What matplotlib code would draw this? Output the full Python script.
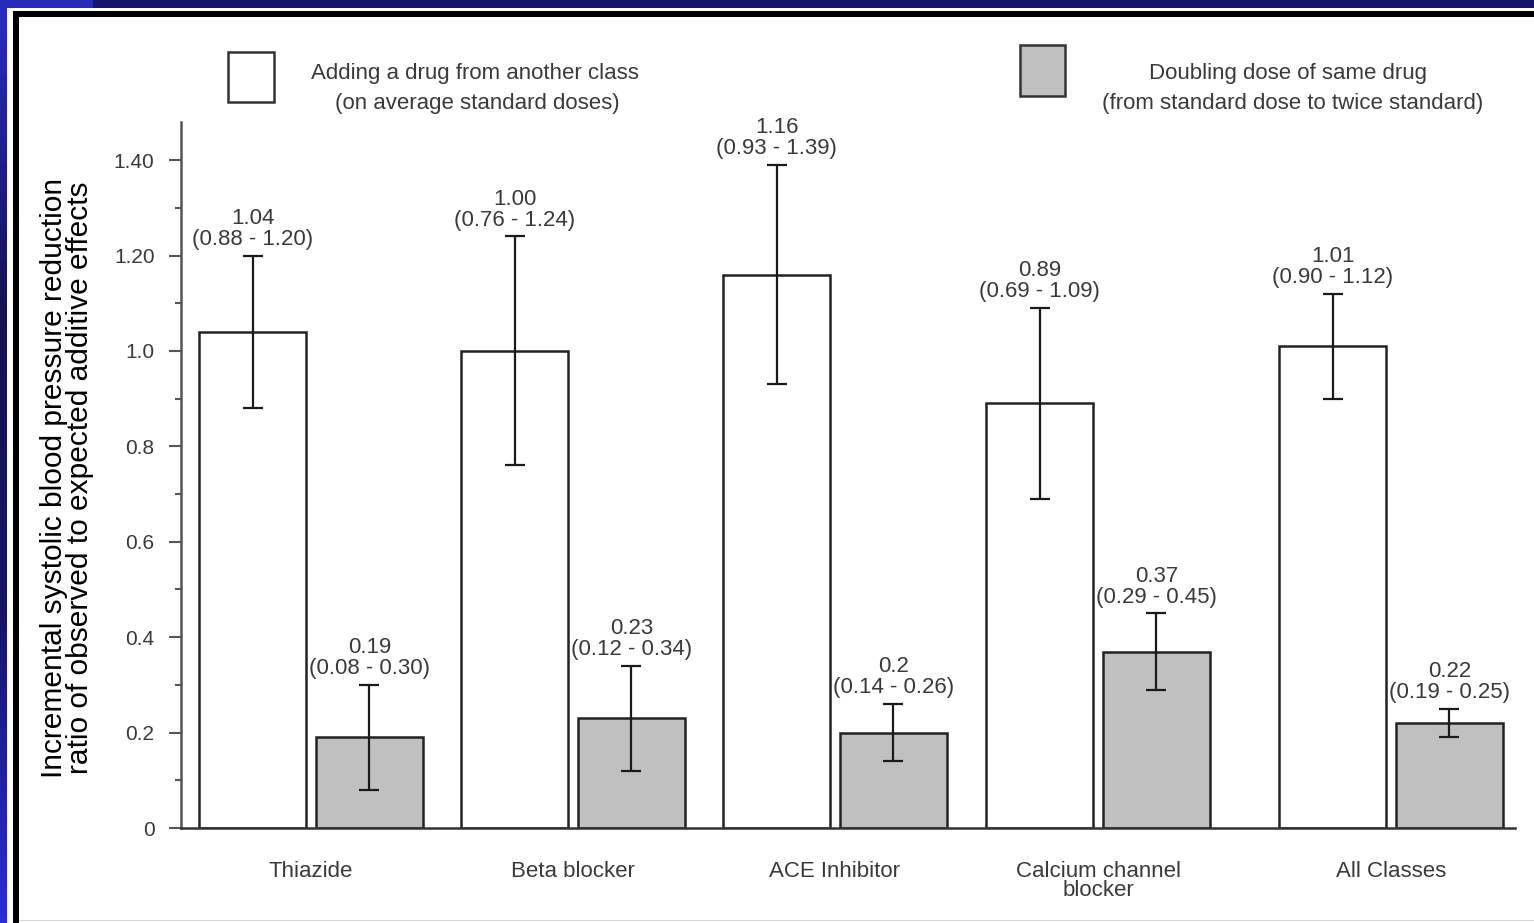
import numpy as np
import matplotlib.pyplot as plt
from matplotlib.patches import Rectangle

plt.rcParams['font.family'] = ['Liberation Sans', 'DejaVu Sans']

# drug classes and results (ratio, 95% CI)
categories = ['Thiazide', 'Beta blocker', 'ACE Inhibitor', 'Calcium channel\nblocker', 'All Classes']
add_vals = [1.04, 1.00, 1.16, 0.89, 1.01]
add_lo = [0.88, 0.76, 0.93, 0.69, 0.90]
add_hi = [1.20, 1.24, 1.39, 1.09, 1.12]
dbl_vals = [0.19, 0.23, 0.2, 0.37, 0.22]
dbl_lo = [0.08, 0.12, 0.14, 0.29, 0.19]
dbl_hi = [0.30, 0.34, 0.26, 0.45, 0.25]
ytick_vals = [0, 0.2, 0.4, 0.6, 0.8, 1.0, 1.2, 1.4]
ytick_labels = ['0', '0.2', '0.4', '0.6', '0.8', '1.0', '1.20', '1.40']

group_pos = np.array([0, 1, 2, 3.004, 4.122])
bar_w = 0.408
off = 0.223

W, H = 1534, 923
TXT = '#3a3a3a'


def fx(x):
    return x / W


def fy(y):
    return 1 - y / H


fig = plt.figure(figsize=(W / 100, H / 100), dpi=100)
fig.patch.set_facecolor('white')

# slide frame: blue strips + black border
grad = fig.add_axes([0, 0, fx(6), 1])
cols = np.array([[0.17, 0.17, 0.78], [0.08, 0.07, 0.32], [0.09, 0.08, 0.40], [0.17, 0.17, 0.85]])
stops = np.linspace(0, 1, len(cols))
t = np.linspace(0, 1, 200)
img = np.stack([np.interp(t, stops, cols[:, k]) for k in range(3)], axis=1)[:, None, :]
grad.imshow(img, aspect='auto', extent=[0, 1, 1, 0])
grad.axis('off')
fig.add_artist(Rectangle((0, fy(8)), fx(93), 1 - fy(8), transform=fig.transFigure,
                         color='#2a2ab8', lw=0))
fig.add_artist(Rectangle((fx(93), fy(8)), 1, 1 - fy(8), transform=fig.transFigure,
                         color='#15156c', lw=0))
fig.add_artist(Rectangle((fx(13), fy(17)), 1, 6 / H, transform=fig.transFigure,
                         color='black', lw=0))
fig.add_artist(Rectangle((fx(13), 0), 6 / W, fy(11), transform=fig.transFigure,
                         color='black', lw=0))
fig.add_artist(Rectangle((fx(19), fy(921)), 1, 1.5 / H, transform=fig.transFigure,
                         color='#d8d8d8', lw=0))

ax = fig.add_axes([fx(181), fy(828), (1515 - 181) / W, (828 - 122) / H])

add_vals = np.array(add_vals)
dbl_vals = np.array(dbl_vals)
x_add = group_pos - off
x_dbl = group_pos + off

ax.bar(x_add, add_vals, bar_w, color='white', edgecolor='#222222', linewidth=1.8, zorder=1)
ax.bar(x_dbl, dbl_vals, bar_w, color='#c0c0c0', edgecolor='#222222', linewidth=1.8, zorder=1)

err_kw = dict(fmt='none', ecolor='#1a1a1a', elinewidth=1.6, capsize=7, capthick=1.6, zorder=3)
ax.errorbar(x_add, add_vals, yerr=[add_vals - np.array(add_lo), np.array(add_hi) - add_vals], **err_kw)
ax.errorbar(x_dbl, dbl_vals, yerr=[dbl_vals - np.array(dbl_lo), np.array(dbl_hi) - dbl_vals], **err_kw)

for i in range(len(categories)):
    ax.annotate(f'{add_vals[i]:.2f}\n({add_lo[i]:.2f} - {add_hi[i]:.2f})',
                (x_add[i], add_hi[i]), xytext=(0, 4), textcoords='offset points',
                ha='center', va='bottom', fontsize=16, color=TXT, linespacing=1.0)
    ax.annotate(f'{dbl_vals[i]:g}\n({dbl_lo[i]:.2f} - {dbl_hi[i]:.2f})',
                (x_dbl[i], dbl_hi[i]), xytext=(0, 4), textcoords='offset points',
                ha='center', va='bottom', fontsize=16, color=TXT, linespacing=1.0)

ax.set_xlim((181 - 311) / 262, (1515 - 311) / 262)
ax.set_ylim(0, 1.48)

for s in ['top', 'right']:
    ax.spines[s].set_visible(False)
ax.spines['left'].set_color('#555555')
ax.spines['left'].set_linewidth(1.8)
ax.spines['bottom'].set_color('#333333')
ax.spines['bottom'].set_linewidth(1.8)

ax.set_yticks(ytick_vals)
ax.set_yticklabels(ytick_labels)
ax.set_yticks(np.arange(0.1, 1.4, 0.2), minor=True)
ax.tick_params(axis='y', which='major', length=9, width=1.5, color='#555555', pad=10,
               labelsize=15, labelcolor=TXT)
ax.tick_params(axis='y', which='minor', length=4, width=1.5, color='#555555')

ax.set_xticks(group_pos)
ax.set_xticklabels(categories, linespacing=0.85)
ax.tick_params(axis='x', length=0, pad=24, labelsize=16, labelcolor=TXT)

fig.text(fx(67), fy(478),
         'Incremental systolic blood pressure reduction\nratio of observed to expected additive effects',
         rotation=90, ha='center', va='center', fontsize=21.5, color='black', linespacing=0.88)

# legend
fig.add_artist(Rectangle((fx(228), fy(102)), 46 / W, 50 / H, transform=fig.transFigure,
                         facecolor='white', edgecolor='#333333', lw=1.8))
fig.add_artist(Rectangle((fx(1020), fy(96)), 45 / W, 51 / H, transform=fig.transFigure,
                         facecolor='#c0c0c0', edgecolor='#333333', lw=1.8))
fig.text(fx(475), fy(73), 'Adding a drug from another class', ha='center', va='center',
         fontsize=16, color=TXT)
fig.text(fx(477), fy(104), '(on average standard doses)', ha='center', va='center',
         fontsize=16, color=TXT)
fig.text(fx(1288), fy(73), 'Doubling dose of same drug', ha='center', va='center',
         fontsize=16, color=TXT)
fig.text(fx(1293), fy(104), '(from standard dose to twice standard)', ha='center', va='center',
         fontsize=16, color=TXT)

fig.savefig('out.png', dpi=100)
